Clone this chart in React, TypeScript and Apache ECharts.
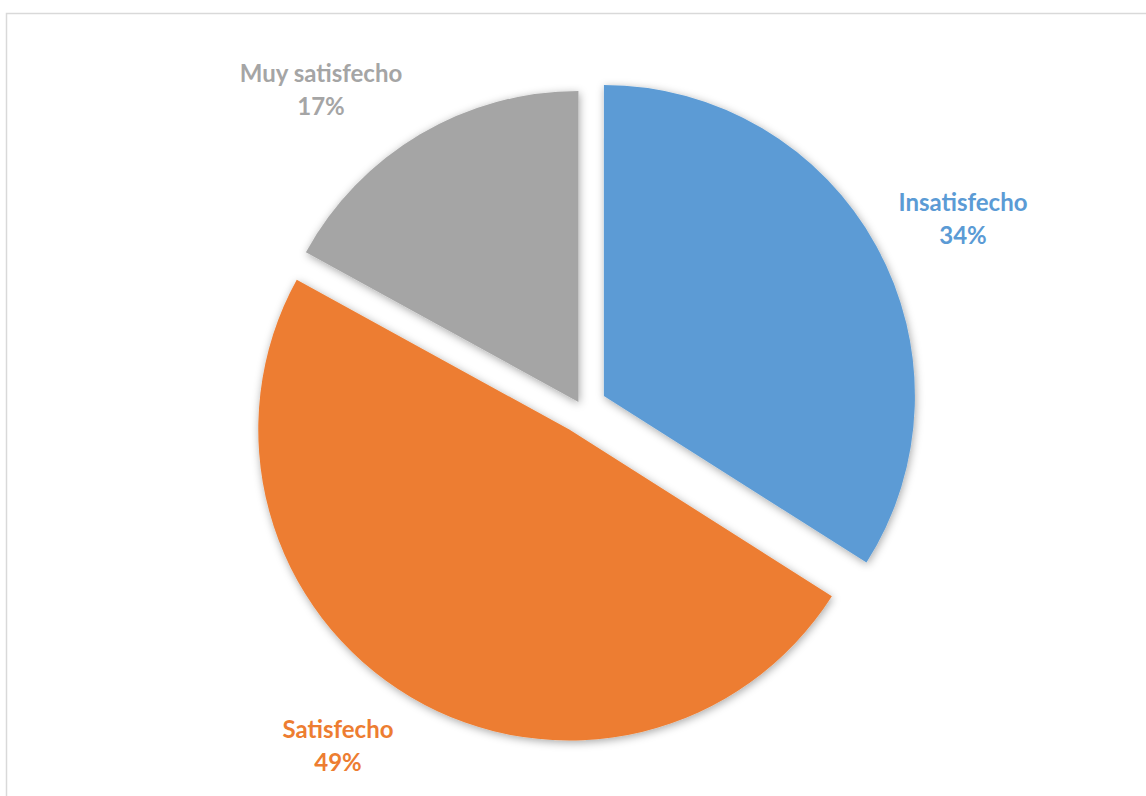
import React, { useEffect, useRef } from "react";
import * as echarts from "echarts";

const categories = ["Insatisfecho", "Satisfecho", "Muy satisfecho"];
const values = [34, 49, 17];
const colors = ["#5B9BD5", "#ED7D31", "#A5A5A5"];
const explodeOffsets = [25, 25, 7];
const labelCenters = [
  [963, 218],
  [338, 745],
  [321, 89],
];

export default function App() {
  const ref = useRef<HTMLDivElement>(null);
  useEffect(() => {
    const chart = echarts.init(ref.current!, null, { renderer: "svg" });
    const series = categories.map((_, k) => ({
      type: "pie",
      center: [582, 408],
      radius: 311,
      startAngle: 90,
      clockwise: true,
      selectedMode: "multiple",
      selectedOffset: explodeOffsets[k],
      label: { show: false },
      labelLine: { show: false },
      data: categories.map((name, i) => ({
        name,
        value: values[i],
        selected: i === k,
        itemStyle:
          i === k
            ? {
                color: colors[i],
                borderWidth: 0,
                shadowBlur: 9,
                shadowColor: "rgba(0,0,0,0.35)",
                shadowOffsetX: 1,
                shadowOffsetY: 2,
              }
            : { color: "rgba(0,0,0,0)", borderWidth: 0, shadowBlur: 0 },
      })),
    }));
    const labels = categories.map((name, i) => ({
      type: "text",
      silent: true,
      z: 100,
      x: labelCenters[i][0],
      y: labelCenters[i][1],
      style: {
        text: `${name}\n${values[i]}%`,
        fill: colors[i],
        font: 'bold 24px "Lato", sans-serif',
        lineHeight: 33,
        align: "center",
        verticalAlign: "middle",
      },
    }));
    chart.setOption({
      animation: false,
      backgroundColor: "#ffffff",
      graphic: [
        {
          type: "rect",
          silent: true,
          shape: { x: 6.5, y: 13.5, width: 1300, height: 900 },
          style: { fill: "none", stroke: "#d9d9d9", lineWidth: 1.5 },
        },
        ...labels,
      ],
      series,
    });
    return () => chart.dispose();
  }, []);
  return (
    <div style={{ position: "fixed", left: 0, top: 0, width: 1146, height: 796 }}>
      <div ref={ref} style={{ width: 1146, height: 796 }} />
    </div>
  );
}
